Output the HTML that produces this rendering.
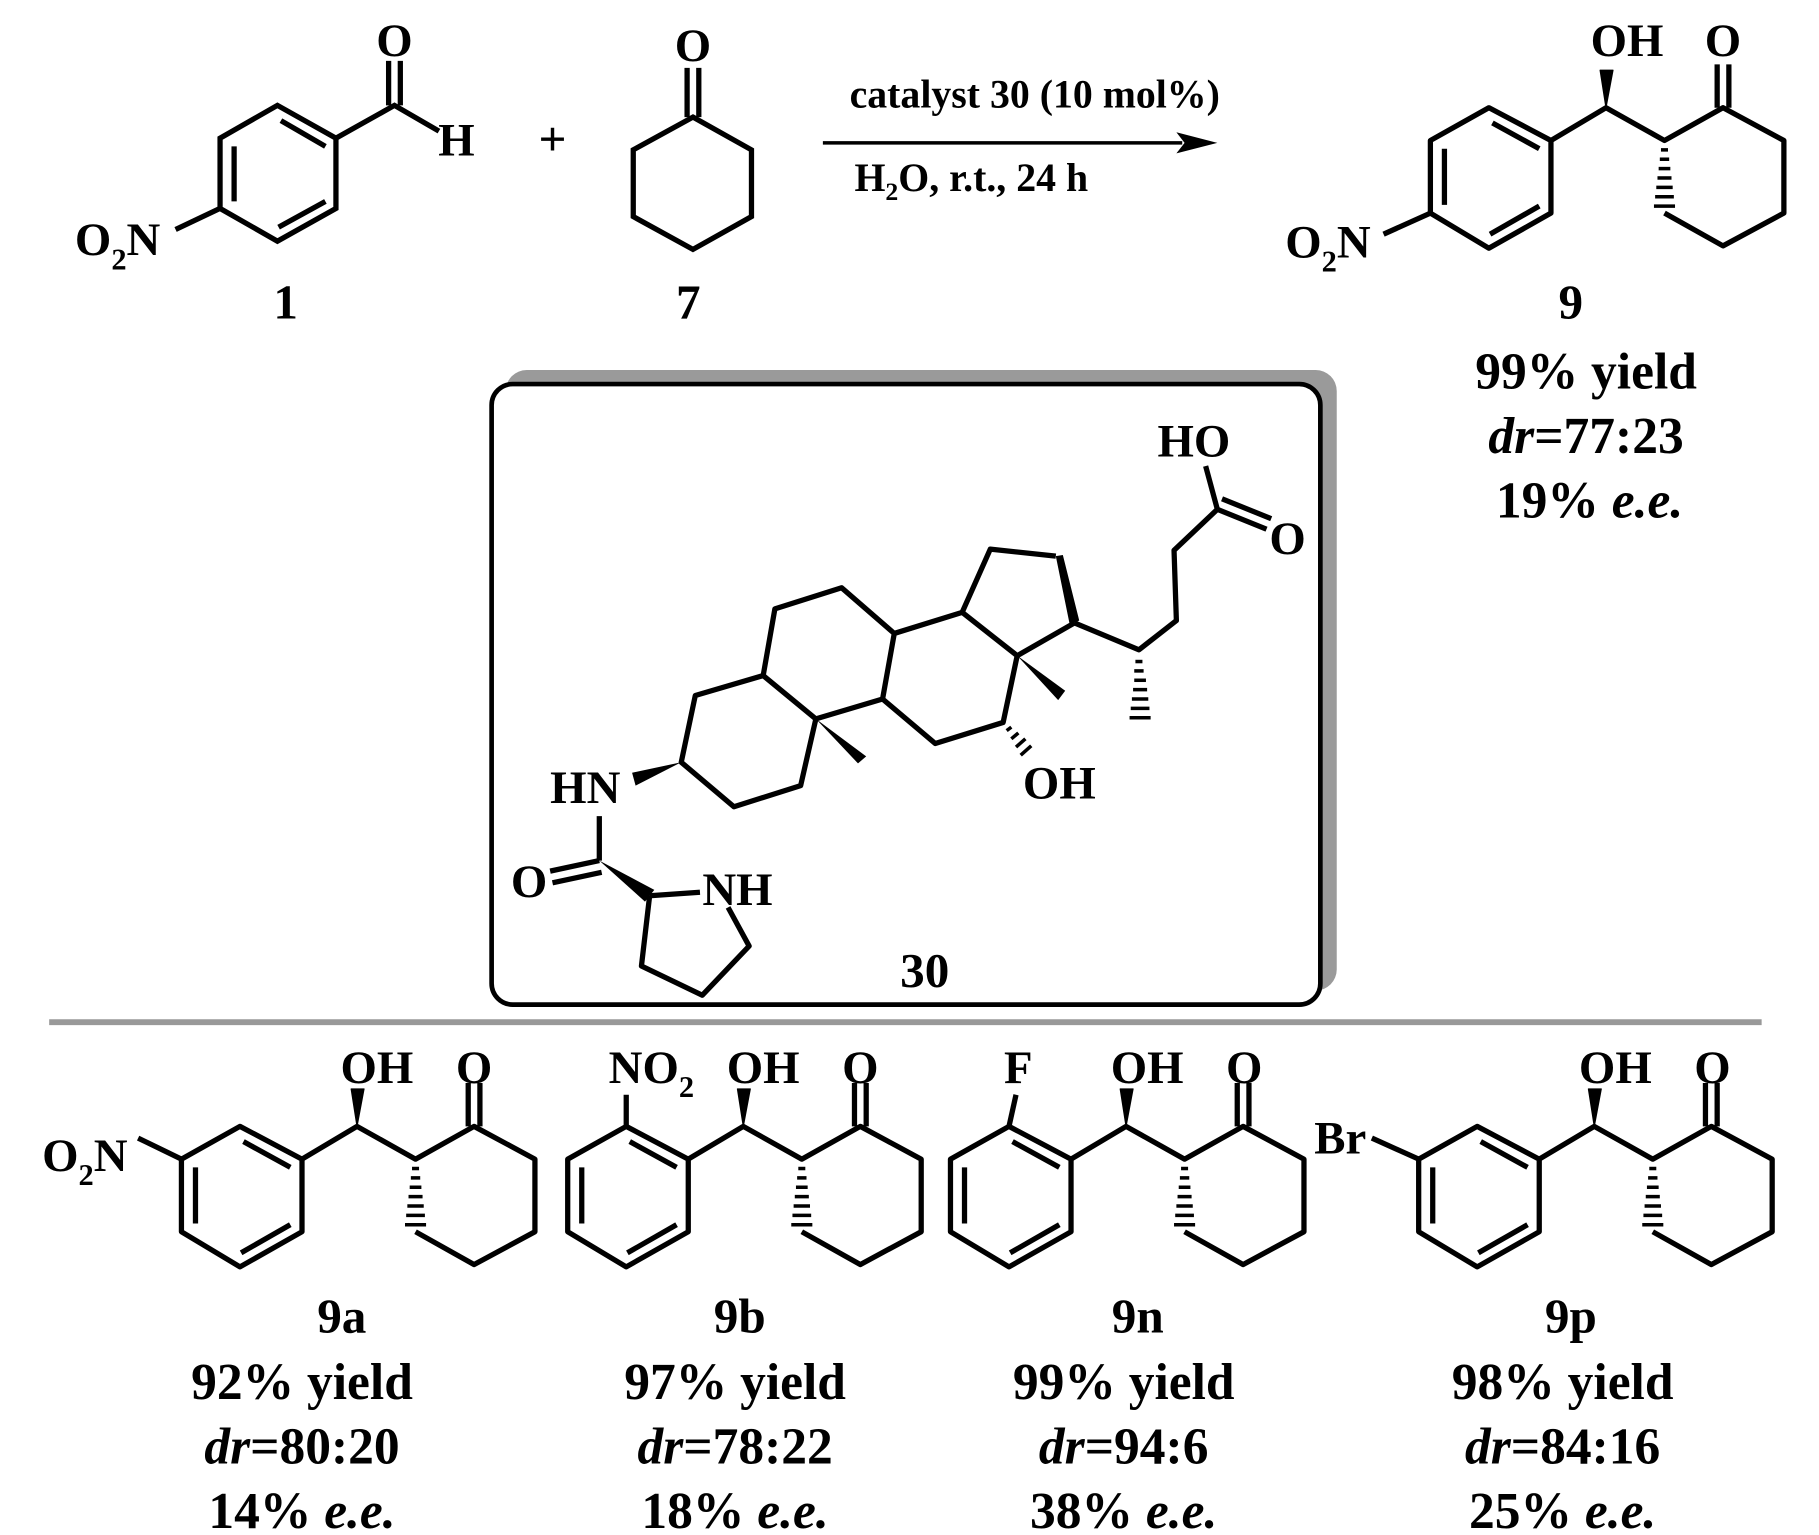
<!DOCTYPE html>
<html><head><meta charset="utf-8"><style>
html,body{margin:0;padding:0;background:#fff;}
svg{display:block;}
text{font-family:"Liberation Serif",serif;font-weight:bold;fill:#000;}
</style></head><body>
<svg width="1819" height="1535" viewBox="0 0 1554 1311" preserveAspectRatio="none" xmlns="http://www.w3.org/2000/svg">
<defs>
<g id="core" stroke="#000" stroke-width="4.5" fill="none" stroke-linejoin="round">
  <polygon points="155,990 205,962 258,990 258,1052 205,1082 155,1052"/>
  <line x1="208" y1="975" x2="248" y2="997"/>
  <line x1="248" y1="1046" x2="206" y2="1070"/>
  <line x1="167" y1="1045" x2="167" y2="997"/>
  <polyline points="258,990 305,962 355,990 405,962 457,990 457,1052 405,1080 355,1052"/>
  <line x1="400" y1="962" x2="400" y2="925"/>
  <line x1="410" y1="962" x2="410" y2="925"/>
  <polygon points="305,962 300,930 311,930" fill="#000" stroke-width="1"/>
  <g stroke-width="3">
    <line x1="352" y1="998" x2="358" y2="998"/>
    <line x1="351" y1="1006" x2="359" y2="1006"/>
    <line x1="350" y1="1014" x2="360" y2="1014"/>
    <line x1="349" y1="1022" x2="361" y2="1022"/>
    <line x1="348" y1="1030" x2="362" y2="1030"/>
    <line x1="347" y1="1038" x2="363" y2="1038"/>
    <line x1="346" y1="1046" x2="364" y2="1046"/>
  </g>
</g>
</defs>

<!-- compound 1 -->
<g stroke="#000" stroke-width="4.5" fill="none">
  <polygon points="188,118 237,90 287,118 287,178 237,206 188,178"/>
  <line x1="240" y1="103" x2="278" y2="125"/>
  <line x1="278" y1="172" x2="238" y2="194"/>
  <line x1="200" y1="172" x2="200" y2="125"/>
  <polyline points="287,118 337,90 375,112"/>
  <line x1="332" y1="90" x2="332" y2="52"/>
  <line x1="342" y1="90" x2="342" y2="52"/>
  <line x1="188" y1="178" x2="150" y2="196"/>
</g>
<text x="337" y="48" font-size="40" text-anchor="middle">O</text>
<text x="390" y="133" font-size="40" text-anchor="middle">H</text>
<text x="64" y="218" font-size="40">O<tspan font-size="26" dy="12">2</tspan><tspan dy="-12">N</tspan></text>
<text x="244" y="272" font-size="42" text-anchor="middle">1</text>
<text x="472" y="133" font-size="42" text-anchor="middle">+</text>

<!-- compound 7 -->
<g stroke="#000" stroke-width="4.5" fill="none">
  <polygon points="592,100 642,128 642,185 592,213 541,185 541,128"/>
  <line x1="587" y1="100" x2="587" y2="58"/>
  <line x1="597" y1="100" x2="597" y2="58"/>
</g>
<text x="592" y="52" font-size="40" text-anchor="middle">O</text>
<text x="588" y="272" font-size="42" text-anchor="middle">7</text>

<!-- arrow -->
<line x1="703" y1="122" x2="1010" y2="122" stroke="#000" stroke-width="3"/>
<polygon points="1040,122 1005,113 1012,122 1005,131" fill="#000"/>
<text x="884" y="92" font-size="34" text-anchor="middle">catalyst 30 (10 mol%)</text>
<text x="730" y="163" font-size="34">H<tspan font-size="22" dy="8">2</tspan><tspan dy="-8">O, r.t., 24 h</tspan></text>

<!-- compound 9 -->
<use href="#core" transform="translate(1067,-870)"/>
<line x1="1222" y1="182" x2="1182" y2="200" stroke="#000" stroke-width="4.5"/>
<text x="1390" y="48" font-size="40" text-anchor="middle">OH</text>
<text x="1472" y="48" font-size="40" text-anchor="middle">O</text>
<text x="1098" y="220" font-size="40">O<tspan font-size="26" dy="12">2</tspan><tspan dy="-12">N</tspan></text>
<text x="1342" y="272" font-size="42" text-anchor="middle">9</text>
<text x="1355" y="332" font-size="44" text-anchor="middle">99% yield</text>
<text x="1355" y="387" font-size="44" text-anchor="middle"><tspan font-style="italic">dr</tspan>=77:23</text>
<text x="1358" y="442" font-size="44" text-anchor="middle">19% <tspan font-style="italic">e.e.</tspan></text>

<!-- box -->
<rect x="432" y="316" width="710" height="530" rx="18" fill="#9a9a9a"/>
<rect x="420" y="328" width="708" height="530" rx="18" fill="#fff" stroke="#000" stroke-width="4"/>

<!-- steroid -->
<g stroke="#000" stroke-width="4.5" fill="none" stroke-linejoin="round">
  <polygon points="582,651 594,594 652,577 697,614 684,671 627,689"/>
  <polyline points="652,577 662,520 719,502 764,541 754,597 697,614"/>
  <polyline points="764,541 822,523 869,560 857,617 799,635 754,597"/>
  <polyline points="822,523 846,469 902,475"/>
  <polyline points="918,532 869,560"/>
  <polyline points="918,532 973,555 1005,530 1003,470 1040,435"/>
  <line x1="1040" y1="435" x2="1030" y2="398"/>
  <line x1="1040" y1="435" x2="1082" y2="452"/>
  <line x1="1044" y1="426" x2="1086" y2="443"/>
  <line x1="512" y1="697" x2="512" y2="735"/>
  <line x1="512" y1="735" x2="470" y2="744"/>
  <line x1="514" y1="745" x2="472" y2="754"/>
  <polyline points="555,765 598,762"/>
  <polyline points="622,775 640,808 600,850 548,825 555,765"/>
</g>
<g fill="#000">
  <polygon points="697,614 733,652 740,646"/>
  <polygon points="869,560 904,598 910,590"/>
  <polygon points="902,475 914,534 922,530 908,474"/>
  <polygon points="582,651 540,660 543,671"/>
  <polygon points="512,735 551,770 559,760"/>
</g>
<g stroke="#000" stroke-width="3">
  <line x1="970" y1="565" x2="976" y2="565"/><line x1="969" y1="573" x2="977" y2="573"/>
  <line x1="969" y1="581" x2="979" y2="581"/><line x1="968" y1="589" x2="980" y2="589"/>
  <line x1="967" y1="597" x2="981" y2="597"/><line x1="966" y1="605" x2="982" y2="605"/>
  <line x1="965" y1="613" x2="983" y2="613"/>
  <line x1="860" y1="624" x2="864" y2="621"/><line x1="864" y1="631" x2="870" y2="626"/>
  <line x1="868" y1="638" x2="876" y2="631"/><line x1="872" y1="645" x2="881" y2="637"/>
</g>
<text x="500" y="686" font-size="40" text-anchor="middle">HN</text>
<text x="905" y="682" font-size="40" text-anchor="middle">OH</text>
<text x="1020" y="390" font-size="40" text-anchor="middle">HO</text>
<text x="1100" y="473" font-size="40" text-anchor="middle">O</text>
<text x="452" y="766" font-size="40" text-anchor="middle">O</text>
<text x="630" y="773" font-size="40" text-anchor="middle">NH</text>
<text x="790" y="843" font-size="42" text-anchor="middle">30</text>

<!-- separator -->
<line x1="42" y1="873" x2="1505" y2="873" stroke="#999" stroke-width="5"/>

<!-- 9a -->
<use href="#core"/>
<line x1="155" y1="990" x2="118" y2="972" stroke="#000" stroke-width="4.5"/>
<text x="322" y="925" font-size="40" text-anchor="middle">OH</text>
<text x="405" y="925" font-size="40" text-anchor="middle">O</text>
<text x="36" y="1000" font-size="40">O<tspan font-size="26" dy="12">2</tspan><tspan dy="-12">N</tspan></text>
<text x="292" y="1138" font-size="42" text-anchor="middle">9a</text>
<text x="258" y="1195" font-size="44" text-anchor="middle">92% yield</text>
<text x="258" y="1250" font-size="44" text-anchor="middle"><tspan font-style="italic">dr</tspan>=80:20</text>
<text x="258" y="1305" font-size="44" text-anchor="middle">14% <tspan font-style="italic">e.e.</tspan></text>

<!-- 9b -->
<use href="#core" transform="translate(330,0)"/>
<line x1="535" y1="962" x2="535" y2="935" stroke="#000" stroke-width="4.5"/>
<text x="520" y="925" font-size="40">NO<tspan font-size="26" dy="12">2</tspan></text>
<text x="652" y="925" font-size="40" text-anchor="middle">OH</text>
<text x="735" y="925" font-size="40" text-anchor="middle">O</text>
<text x="632" y="1138" font-size="42" text-anchor="middle">9b</text>
<text x="628" y="1195" font-size="44" text-anchor="middle">97% yield</text>
<text x="628" y="1250" font-size="44" text-anchor="middle"><tspan font-style="italic">dr</tspan>=78:22</text>
<text x="628" y="1305" font-size="44" text-anchor="middle">18% <tspan font-style="italic">e.e.</tspan></text>

<!-- 9n -->
<use href="#core" transform="translate(657,0)"/>
<line x1="862" y1="962" x2="868" y2="935" stroke="#000" stroke-width="4.5"/>
<text x="870" y="925" font-size="40" text-anchor="middle">F</text>
<text x="980" y="925" font-size="40" text-anchor="middle">OH</text>
<text x="1063" y="925" font-size="40" text-anchor="middle">O</text>
<text x="972" y="1138" font-size="42" text-anchor="middle">9n</text>
<text x="960" y="1195" font-size="44" text-anchor="middle">99% yield</text>
<text x="960" y="1250" font-size="44" text-anchor="middle"><tspan font-style="italic">dr</tspan>=94:6</text>
<text x="960" y="1305" font-size="44" text-anchor="middle">38% <tspan font-style="italic">e.e.</tspan></text>

<!-- 9p -->
<use href="#core" transform="translate(1057,0)"/>
<line x1="1212" y1="990" x2="1172" y2="972" stroke="#000" stroke-width="4.5"/>
<text x="1145" y="985" font-size="40" text-anchor="middle">Br</text>
<text x="1380" y="925" font-size="40" text-anchor="middle">OH</text>
<text x="1463" y="925" font-size="40" text-anchor="middle">O</text>
<text x="1342" y="1138" font-size="42" text-anchor="middle">9p</text>
<text x="1335" y="1195" font-size="44" text-anchor="middle">98% yield</text>
<text x="1335" y="1250" font-size="44" text-anchor="middle"><tspan font-style="italic">dr</tspan>=84:16</text>
<text x="1335" y="1305" font-size="44" text-anchor="middle">25% <tspan font-style="italic">e.e.</tspan></text>
</svg>
</body></html>
